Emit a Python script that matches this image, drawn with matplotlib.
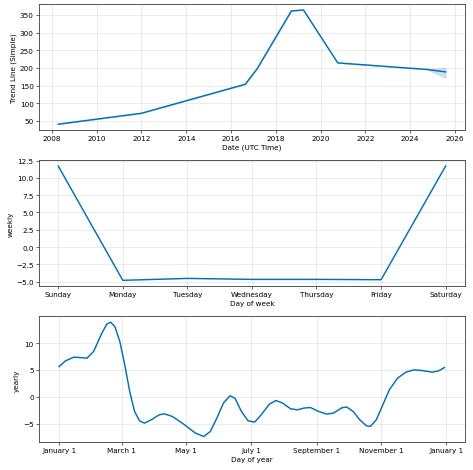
import pandas as pd
import matplotlib
matplotlib.use('Agg')
import matplotlib.pyplot as plt
import matplotlib.dates as mdates
from matplotlib.ticker import FuncFormatter

# Trend component
trend_dates = ['2008-04-12', '2012-01-01', '2016-08-20', '2017-03-01', '2018-09-12',
               '2019-03-28', '2020-10-08', '2024-10-01', '2025-08-04']
trend_values = [40.5, 71.5, 153.5, 197, 361, 364, 214, 195.5, 188.5]
trend_upper = [40.5, 71.5, 153.5, 197, 361, 364, 214, 195.5, 200]
trend_lower = [40.5, 71.5, 153.5, 197, 361, 364, 214, 195.5, 172]

# Weekly component
week_days = ['Sunday', 'Monday', 'Tuesday', 'Wednesday', 'Thursday', 'Friday', 'Saturday']
weekly_values = [11.7, -4.8, -4.52, -4.66, -4.66, -4.71, 11.7]

# Yearly component (day offset from Jan 1, value)
yearly_days = [0, 6.2, 14, 20.2, 26.4, 32.6, 40.4, 45, 48.7, 52.7, 57.4, 62, 66.7, 71.3,
               76, 80.7, 86.9, 94.6, 99.3, 107, 116.3, 122.5, 128.7, 136.5, 142.7, 148.9,
               155.1, 161.3, 166, 172.1, 178.4, 184.6, 190.7, 198.5, 204.7, 210.9, 218.6,
               224.8, 231, 237.2, 245, 252.7, 259, 266.7, 271.3, 277.6, 283.7, 290, 293.7,
               299.3, 305.5, 311.6, 319.4, 327.2, 334.9, 342.7, 352, 358.1, 363.7]
yearly_values = [5.63, 6.7, 7.38, 7.3, 7.19, 8.42, 11.83, 13.5, 13.88, 13.07, 10.28, 5.95,
                 0.99, -2.73, -4.46, -4.89, -4.28, -3.35, -3.16, -3.66, -4.89, -5.82,
                 -6.75, -7.38, -6.45, -3.96, -1.17, 0.19, -0.25, -2.73, -4.46, -4.7,
                 -3.35, -1.36, -0.68, -1.17, -2.23, -2.42, -2.1, -1.99, -2.73, -3.22,
                 -3.03, -2.05, -1.88, -2.73, -4.28, -5.39, -5.51, -4.28, -1.49, 1.3,
                 3.47, 4.59, 5.02, 4.89, 4.59, 4.83, 5.45]

color = '#0072B2'
dpi = 52.67
plt.rcParams['axes.edgecolor'] = '#444444'
plt.rcParams['axes.linewidth'] = 1.2
fig, axes = plt.subplots(3, 1, figsize=(474 / dpi, 471 / dpi), dpi=dpi)

# Trend
ax = axes[0]
td = pd.to_datetime(trend_dates)
ax.plot(td, trend_values, ls='-', c=color, lw=2)
ax.fill_between(td, trend_lower, trend_upper, color=color, alpha=0.2)
ax.xaxis.set_major_locator(mdates.YearLocator(2))
ax.xaxis.set_major_formatter(mdates.DateFormatter('%Y'))
ax.set_xlabel('Date (UTC Time)')
ax.set_ylabel('Trend Line (Simple)')

# Weekly
ax = axes[1]
ax.plot(range(len(week_days)), weekly_values, ls='-', c=color, lw=2)
ax.set_xticks(range(len(week_days)))
ax.set_xticklabels(week_days)
ax.set_xlabel('Day of week')
ax.set_ylabel('weekly')

# Yearly
ax = axes[2]
yd = pd.Timestamp('2017-01-01') + pd.to_timedelta(yearly_days, unit='D')
ax.plot(yd, yearly_values, ls='-', c=color, lw=2, solid_joinstyle='round')
ax.xaxis.set_major_locator(mdates.MonthLocator(bymonth=[1, 3, 5, 7, 9, 11]))
ax.xaxis.set_major_formatter(FuncFormatter(
    lambda x, pos=None: '{dt:%B} {dt.day}'.format(dt=mdates.num2date(x))))
ax.set_xlim(mdates.date2num(pd.Timestamp('2016-12-13')), mdates.date2num(pd.Timestamp('2018-01-19')))
ax.set_xlabel('Day of year')
ax.set_ylabel('yearly')

for ax in axes:
    ax.grid(True, which='major', c='gray', ls='-', lw=1, alpha=0.2)

fig.subplots_adjust(left=0.082, right=0.981, top=0.989, bottom=0.059, hspace=0.242)
plt.savefig('out.png', dpi=dpi)
